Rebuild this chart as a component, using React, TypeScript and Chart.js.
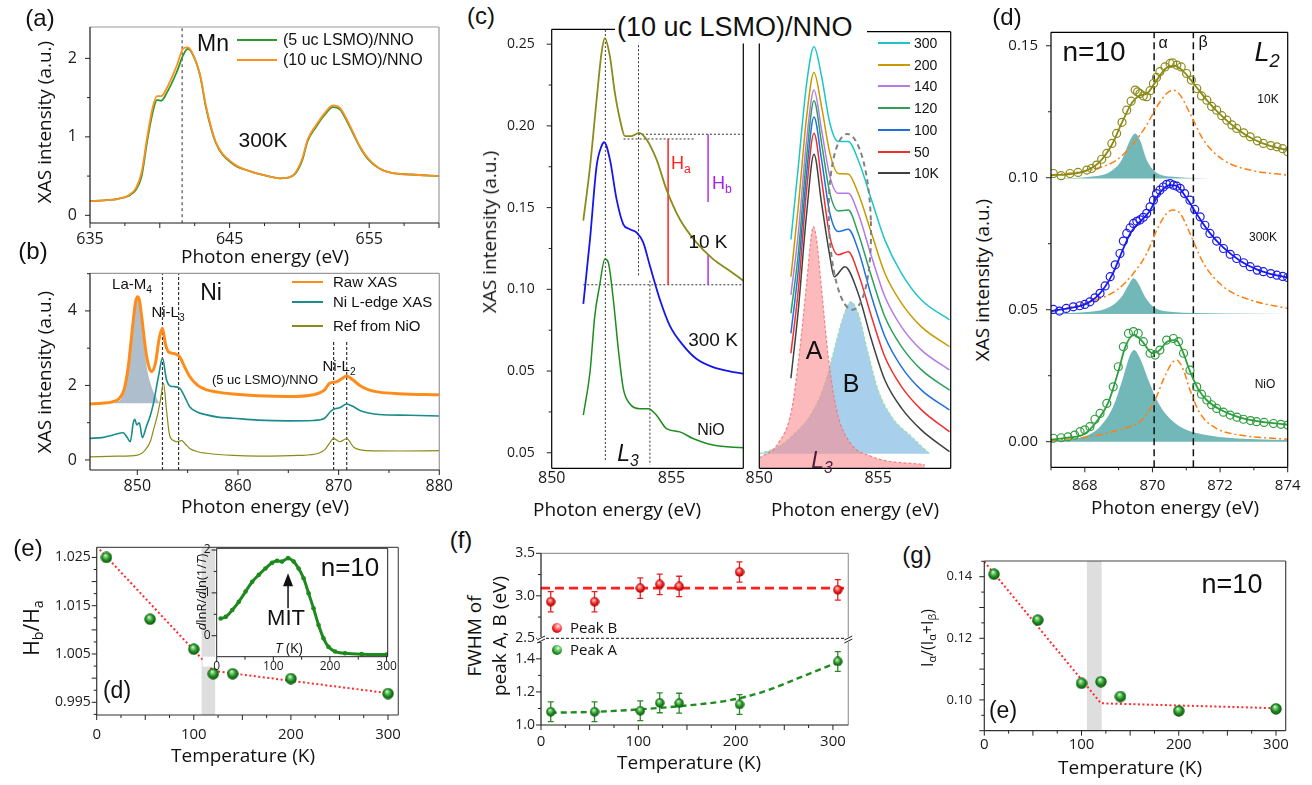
import React, { useEffect, useRef } from 'react';
import { Chart, registerables } from 'chart.js';
Chart.register(...registerables);

const AX_FONT = "'Open Sans', 'DejaVu Sans', sans-serif";
const TX_FONT = "'Liberation Sans', Arial, sans-serif";
const DK = '#1a1a1a';
const LT = '#9a9a9a';

// ---------------- (a) Mn L-edge ----------------
const aLsmo5 = [[635,0.18],[636,0.19],[637,0.21],[637.8,0.25],[638.3,0.33],[638.7,0.5],[639.1,0.95],[639.5,1.32],[639.8,1.47],[640.1,1.46],[640.5,1.56],[641.2,1.82],[641.7,2.05],[642.0,2.12],[642.3,2.07],[642.9,1.77],[643.3,1.38],[644.0,0.93],[645.2,0.66],[646.5,0.56],[648.0,0.49],[648.6,0.47],[649.2,0.48],[649.7,0.53],[650.2,0.7],[650.6,0.95],[651.2,1.13],[651.8,1.28],[652.4,1.38],[652.9,1.35],[653.6,1.13],[654.3,0.88],[654.9,0.72],[655.7,0.6],[656.6,0.54],[658,0.52],[660,0.5]];
const aLsmo10 = [[635,0.18],[636,0.19],[637,0.21],[637.8,0.26],[638.3,0.35],[638.7,0.55],[639.1,1.0],[639.5,1.38],[639.8,1.52],[640.1,1.52],[640.5,1.62],[641.2,1.9],[641.7,2.13],[642.0,2.14],[642.3,2.08],[642.9,1.78],[643.3,1.4],[644.0,0.94],[645.2,0.67],[646.5,0.56],[648.0,0.49],[648.6,0.47],[649.2,0.48],[649.7,0.54],[650.2,0.72],[650.6,0.97],[651.2,1.15],[651.8,1.3],[652.4,1.4],[652.9,1.37],[653.6,1.15],[654.3,0.89],[654.9,0.73],[655.7,0.6],[656.6,0.54],[658,0.52],[660,0.5]];
const aMnLine = [[641.6,-0.1],[641.6,2.4]];
const aXTicks = [635, 645, 655];
const aYTicks = [0, 1, 2];

// ---------------- (b) Ni L-edge ----------------
const bRaw = [[845.3,1.5],[846.5,1.52],[847.5,1.56],[848.2,1.65],[848.7,1.9],[849.1,2.5],[849.5,3.5],[849.8,4.2],[850.0,4.38],[850.2,4.3],[850.5,3.7],[850.8,3.0],[851.1,2.55],[851.4,2.37],[851.8,2.6],[852.2,3.3],[852.5,3.53],[852.8,3.1],[853.1,2.9],[853.6,2.86],[854.2,2.77],[854.7,2.5],[855.2,2.24],[856.0,2.0],[856.9,1.88],[858,1.82],[859.5,1.77],[862,1.72],[865,1.7],[867.5,1.75],[868.6,1.88],[869.1,2.06],[869.8,2.1],[870.3,2.18],[870.8,2.25],[871.4,2.15],[872.1,2.0],[873.0,1.88],[874,1.82],[876,1.78],[880,1.75]];
const bNiEdge = [[845.3,0.58],[846.5,0.6],[847.6,0.67],[848.6,0.73],[849.0,0.6],[849.3,0.49],[849.6,1.0],[849.75,1.09],[849.95,0.94],[850.2,1.0],[850.5,0.6],[850.9,0.9],[851.3,1.2],[851.6,1.52],[852.1,2.24],[852.5,2.73],[852.9,2.15],[853.3,1.98],[853.6,1.97],[854.2,1.93],[854.7,1.7],[855.2,1.43],[856,1.28],[856.9,1.21],[858,1.15],[859.5,1.12],[862,1.07],[865,1.05],[867.5,1.06],[868.6,1.12],[869.2,1.3],[869.5,1.36],[870.1,1.4],[870.8,1.5],[871.4,1.44],[872.1,1.33],[873,1.26],[874,1.22],[877,1.2],[880,1.18]];
const bNiORef = [[845.3,0.08],[848,0.1],[850,0.13],[850.8,0.27],[851.3,0.5],[851.6,0.8],[852.0,1.2],[852.3,1.61],[852.6,2.06],[852.9,1.34],[853.2,0.67],[853.6,0.52],[853.9,0.49],[854.4,0.52],[854.8,0.42],[855.2,0.31],[856,0.22],[856.9,0.18],[859.5,0.12],[862,0.1],[866,0.12],[868,0.18],[868.6,0.27],[869.1,0.45],[869.5,0.58],[870.1,0.49],[870.8,0.57],[871.5,0.34],[872.2,0.27],[872.8,0.25],[876,0.24],[880,0.25]];
const bLaPeak = [[846.3,1.52],[847.2,1.53],[848,1.56],[848.5,1.7],[849,2.3],[849.5,3.5],[849.8,4.2],[850.0,4.38],[850.3,4.0],[850.6,3.2],[851.0,2.4],[851.5,1.9],[852.2,1.52]];
const bLaBase = 1.52;
const bNiL3aLine = [[852.5,-0.27],[852.5,5.01]];
const bNiL3bLine = [[854.1,-0.27],[854.1,5.01]];
const bNiL2aLine = [[869.5,-0.27],[869.5,3.22]];
const bNiL2bLine = [[870.8,-0.27],[870.8,3.22]];
const bXTicks = [850, 860, 870, 880];
const bYTicks = [0, 2, 4];

// ---------------- (c) left: L3 edge ----------------
const cLeft10K = [[851.32,0.142],[851.6,0.175],[851.875,0.216],[852.08,0.2445],[852.22,0.2537],[852.43,0.2425],[852.64,0.22],[852.85,0.2039],[853.06,0.1937],[853.33,0.1937],[853.65,0.1957],[853.96,0.1917],[854.375,0.1795],[854.79,0.1612],[855.35,0.1429],[856.04,0.1287],[856.74,0.1185],[857.43,0.1114],[858,0.1053]];
const cLeft300K = [[851.32,0.0911],[851.6,0.1307],[851.875,0.1754],[852.08,0.1876],[852.19,0.19],[852.43,0.1795],[852.71,0.155],[852.99,0.1398],[853.26,0.1368],[853.54,0.1348],[853.82,0.1287],[854.1,0.1144],[854.51,0.0941],[854.93,0.0778],[855.49,0.0657],[856.04,0.0575],[856.74,0.0524],[857.43,0.0498],[858,0.0484]];
const cLeftNiO = [[851.32,0.023],[851.6,0.0494],[851.8,0.0839],[852.0,0.1022],[852.22,0.1185],[852.36,0.1165],[852.57,0.0941],[852.78,0.0636],[852.99,0.0392],[853.26,0.03],[853.68,0.027],[854.03,0.027],[854.375,0.023],[854.79,0.0148],[855.35,0.0128],[855.9,0.0087],[856.74,0.0047],[858,0.003]];
const cGuideL3 = [[852.24,0.2587],[852.24,-0.0055]];
const cGuidePeakB = [[853.625,0.2567],[853.625,0.1083]];
const cGuideNiO = [[854.1,0.1053],[854.1,-0.0075]];
const cGuideBase = [[851.32,0.1028],[858,0.1028]];
const cGuideTopB = [[853.6,0.1949],[858,0.1949]];
const cGuideTopA = [[853.0,0.192],[855.97,0.192]];
const cHa = [[854.86,0.192],[854.86,0.1028]];
const cHbUpper = [[856.53,0.1949],[856.53,0.1535]];
const cHbLower = [[856.53,0.1213],[856.53,0.1028]];
const cXTicks = [850, 855];
const cLeftYTicks = [0, 0.05, 0.1, 0.15, 0.2, 0.25];
const cLeftYText = ['0.05', '0.05', '0.10', '0.15', '0.20', '0.25'];

// ---------------- (c) right: temperature series ----------------
const cRightEnergy = [851.33,851.64,851.99,852.30,852.62,852.97,853.32,853.74,854.16,854.72,855.28,855.98,856.82,858];
const cRight10KEnergy = [851.33,851.64,851.99,852.30,852.62,852.97,853.15,853.60,854.16,854.72,855.28,855.98,856.82,858];
const cR300 = [52.1,68.7,87.6,96.0,89.2,78.5,74.4,74.4,70.2,61.1,52.0,44.4,38.3,33.8];
const cR200 = [43.6,59.6,80.0,90.1,82.3,71.7,67.1,67.0,62.6,53.5,44.4,37.6,32.2,27.7];
const cR140 = [39.5,53.5,74.7,86.1,77.0,66.4,62.6,62.6,58.0,48.2,39.1,32.2,26.9,22.4];
const cR120 = [35.3,48.9,70.9,83.7,74.0,62.6,58.6,58.8,53.5,43.6,34.5,27.7,22.4,17.8];
const cR100 = [30.7,45.1,67.1,80.0,70.2,58.0,53.9,54.4,49.7,39.1,30.0,23.1,17.8,13.3];
const cR50 = [26.2,40.6,63.4,76.3,65.6,52.7,48.6,49.3,44.4,34.5,25.4,18.6,13.3,8.3];
const cR10 = [20.5,36.0,58.0,71.5,60.3,48.2,43.6,45.9,39.8,29.2,20.1,13.7,8.7,3.8];
const cRightLabels = ['300', '200', '140', '120', '100', '50', '10K'];
const cRightColors = ['#1cc6c6', '#c89a00', '#b47ae6', '#2ca05a', '#2070e0', '#f03030', '#404040'];
const cPeakA = [[850,2.3],[850.8,5.7],[851.36,13.3],[851.7,26.9],[851.99,42.1],[852.2,53.5],[852.27,55.0],[852.41,52.0],[852.62,40.6],[852.9,25.4],[853.25,13.3],[853.74,6.4],[854.72,2.7],[856.96,0.8]];
const cPeakB = [[850,3.3],[850.8,4.9],[851.5,8.0],[852.2,12.5],[852.76,19.3],[853.18,27.7],[853.53,34.5],[853.85,37.9],[854.16,35.3],[854.58,26.2],[855.0,17.8],[855.56,11.8],[856.4,7.2],[857.17,3.3]];
const cPeakBBase = 3.3;
const cEllipseCenter = [853.81, 56.1];

// ---------------- (d) L2 edge fits ----------------
const d10KData = [[867.07,0.1016],[867.3,0.1008],[867.56,0.1016],[867.8,0.102],[868.06,0.1029],[868.2,0.1035],[868.35,0.1048],[868.5,0.107],[868.65,0.1092],[868.8,0.113],[868.94,0.1168],[869.1,0.121],[869.24,0.1256],[869.37,0.129],[869.49,0.1332],[869.56,0.1325],[869.63,0.1319],[869.73,0.131],[869.83,0.1307],[869.93,0.133],[870.03,0.1357],[870.12,0.138],[870.22,0.1402],[870.37,0.142],[870.52,0.1433],[870.6,0.1435],[870.72,0.1427],[870.85,0.142],[871.01,0.1395],[871.15,0.137],[871.31,0.1338],[871.45,0.131],[871.61,0.1294],[871.75,0.127],[871.9,0.1256],[872.05,0.1235],[872.2,0.1218],[872.35,0.12],[872.49,0.1187],[872.7,0.117],[872.89,0.1155],[873.1,0.114],[873.28,0.113],[873.5,0.1122],[873.68,0.1117],[873.85,0.111],[874.0,0.1098]];
const d10KFit = [[867,0.101],[867.5,0.1013],[868,0.1025],[868.4,0.1055],[868.8,0.1125],[869.1,0.121],[869.4,0.1285],[869.6,0.131],[869.85,0.132],[870.1,0.1365],[870.4,0.1415],[870.65,0.1425],[870.9,0.1405],[871.2,0.136],[871.6,0.1295],[872.0,0.124],[872.5,0.1185],[873,0.1145],[873.5,0.112],[874,0.1105]];
const d10KPeakA = [[867,0.0997],[868.15,0.1004],[868.75,0.1023],[869.09,0.1067],[869.34,0.1143],[869.49,0.1168],[869.63,0.1143],[869.83,0.1067],[870.08,0.1023],[870.62,0.1004],[872.1,0.0997],[874,0.0997]];
const d10KPeakB = [[867,0.101],[868.15,0.1029],[868.94,0.1067],[869.44,0.113],[869.83,0.12],[870.13,0.1269],[870.42,0.1319],[870.6,0.1332],[870.82,0.1313],[871.11,0.1244],[871.51,0.1143],[872.1,0.1067],[872.89,0.1029],[874,0.101]];
const d300KData = [[867.07,0.0501],[867.25,0.0495],[867.45,0.0505],[867.66,0.0511],[867.85,0.0515],[868.0,0.052],[868.15,0.053],[868.3,0.0545],[868.45,0.0562],[868.6,0.059],[868.75,0.0625],[868.9,0.067],[869.04,0.0713],[869.14,0.076],[869.24,0.0789],[869.34,0.081],[869.44,0.0827],[869.54,0.0835],[869.63,0.084],[869.73,0.085],[869.83,0.0865],[869.93,0.089],[870.03,0.0915],[870.12,0.094],[870.22,0.0953],[870.32,0.0965],[870.42,0.0975],[870.52,0.0978],[870.62,0.0972],[870.72,0.0968],[870.82,0.096],[870.95,0.094],[871.11,0.0915],[871.25,0.088],[871.41,0.0852],[871.55,0.082],[871.7,0.0789],[871.9,0.076],[872.1,0.0732],[872.3,0.071],[872.49,0.0694],[872.7,0.0678],[872.89,0.0663],[873.1,0.065],[873.28,0.0644],[873.5,0.0637],[873.68,0.0631],[873.85,0.0626],[874.0,0.0622]];
const d300KFit = [[867,0.0495],[867.5,0.0505],[868,0.052],[868.4,0.0555],[868.8,0.063],[869.1,0.072],[869.35,0.079],[869.6,0.083],[869.9,0.087],[870.2,0.094],[870.5,0.0972],[870.7,0.097],[871.0,0.0925],[871.3,0.0865],[871.7,0.079],[872.1,0.0735],[872.6,0.0685],[873.1,0.0652],[873.6,0.0632],[874,0.0622]];
const d300KPeakA = [[867,0.0486],[868.15,0.0492],[868.75,0.0511],[869.09,0.0549],[869.29,0.0593],[869.44,0.0619],[869.58,0.06],[869.78,0.0549],[870.03,0.0511],[870.52,0.0492],[872.1,0.0486],[874,0.0484]];
const d300KPeakB = [[867,0.0492],[868.15,0.053],[868.94,0.0574],[869.44,0.0638],[869.83,0.0713],[870.13,0.0802],[870.42,0.0865],[870.6,0.0878],[870.82,0.0865],[871.11,0.0789],[871.51,0.0676],[872.1,0.0587],[872.89,0.0537],[874,0.0505]];
const dNiOData = [[867.07,0.0013],[867.3,0.0015],[867.5,0.0018],[867.7,0.0025],[867.86,0.0038],[868.0,0.0045],[868.15,0.0057],[868.3,0.0085],[868.45,0.0107],[868.65,0.0145],[868.84,0.0208],[868.99,0.0284],[869.14,0.036],[869.29,0.041],[869.44,0.0417],[869.58,0.041],[869.73,0.0379],[869.93,0.0335],[870.08,0.0328],[870.22,0.0347],[870.42,0.0385],[870.62,0.0391],[870.77,0.0379],[870.92,0.0335],[871.11,0.0271],[871.31,0.0208],[871.45,0.018],[871.61,0.0158],[871.75,0.014],[871.9,0.0126],[872.1,0.0112],[872.3,0.0101],[872.5,0.0093],[872.69,0.0085],[872.9,0.008],[873.08,0.0076],[873.3,0.0073],[873.58,0.0069],[873.8,0.0066],[874.0,0.0063]];
const dNiOFit = [[867,0.0008],[867.5,0.0015],[868,0.003],[868.4,0.0085],[868.7,0.015],[869.0,0.027],[869.2,0.036],[869.45,0.0405],[869.7,0.038],[870.0,0.0335],[870.2,0.0345],[870.45,0.038],[870.7,0.0385],[870.9,0.034],[871.1,0.027],[871.35,0.02],[871.6,0.0158],[872.0,0.0122],[872.5,0.0095],[873,0.008],[873.5,0.0071],[874,0.0065]];
const dNiOPeakA = [[867,0.0004],[867.96,0.0019],[868.45,0.0057],[868.84,0.0133],[869.14,0.0246],[869.34,0.0328],[869.46,0.0347],[869.63,0.0316],[869.88,0.0234],[870.13,0.0158],[870.42,0.0101],[870.82,0.0057],[871.6,0.0025],[873.08,0.0009],[874,0.0006]];
const dNiOPeakB = [[867,0.0004],[868.15,0.0019],[869.14,0.005],[869.63,0.0076],[870.03,0.0145],[870.32,0.0234],[870.57,0.0297],[870.72,0.0309],[870.92,0.0271],[871.11,0.0196],[871.41,0.0107],[871.9,0.005],[872.59,0.0025],[874,0.0009]];
const dBase10K = 0.0997;
const dBase300K = 0.0484;
const dBaseNiO = 0;
const dAlphaLine = [[870.05,-0.0097],[870.05,0.1551]];
const dBetaLine = [[871.21,-0.0097],[871.21,0.1551]];
const dXTicks = [868, 870, 872, 874];
const dYTicks = [0, 0.05, 0.1, 0.15];

// ---------------- (e) Hb/Ha vs T, inset ----------------
const eTemp = [10, 55, 100, 120, 140, 200, 300];
const eRatio = [1.025, 1.0122, 1.006, 1.0009, 1.0009, 0.9999, 0.9968];
const eFitTemp = [0, 120, 300];
const eFit = [1.0273, 1.0015, 0.9969];
const eBand = [108, 122];
const eXTicks = [0, 100, 200, 300];
const eYTicks = [0.995, 1.005, 1.015, 1.025];
const insetTemp = [7,16,27.5,39,51,62.7,74.4,86,97.8,106.6,115.4,126,136,144.7,153.5,162.3,171,179.9,188.6,197.4,209,226.7,256,300];
const insetDeriv = [0.40,0.44,0.6,0.79,1.03,1.26,1.42,1.57,1.70,1.75,1.73,1.81,1.73,1.57,1.34,0.99,0.64,0.25,-0.06,-0.26,-0.37,-0.41,-0.43,-0.44];
const insetMIT = 126;
const insetXTicks = [0, 100, 200, 300];
const insetYTicks = [0, 1, 2];

// ---------------- (f) FWHM ----------------
const fTemp = [10, 55, 102, 122, 142, 204, 305];
const fPeakB = [2.93, 2.93, 3.09, 3.135, 3.11, 3.28, 3.07];
const fPeakBErr = [0.12, 0.12, 0.12, 0.12, 0.12, 0.12, 0.12];
const fPeakA = [1.08, 1.08, 1.086, 1.134, 1.132, 1.124, 1.384];
const fPeakAErr = [0.06, 0.06, 0.06, 0.06, 0.06, 0.06, 0.06];
const fFitB = [[0,3.09],[315.8,3.09]];
const fFitATemp = [10, 57, 105, 143, 194, 228, 263, 305];
const fFitA = [1.074, 1.08, 1.096, 1.114, 1.15, 1.2, 1.28, 1.38];
const fXTicks = [0, 100, 200, 300];
const fUpperYTicks = [2.5, 3.0, 3.5];
const fLowerYTicks = [1.0, 1.2, 1.4];

// ---------------- (g) I_alpha ratio ----------------
const gTemp = [10, 55, 100, 120, 140, 200, 300];
const gRatio = [0.1408, 0.1259, 0.1054, 0.1059, 0.1011, 0.0964, 0.0971];
const gFitTemp = [0, 120, 300];
const gFit = [0.1449, 0.0989, 0.0973];
const gBand = [105.5, 120.7];
const gXTicks = [0, 100, 200, 300];
const gYTicks = [0.10, 0.12, 0.14];

// ---------------- layout (plot rectangles) ----------------
const LAYOUT: Record<string, { l: number; t: number; r: number; b: number; m: number[] }> = {
  a: { l: 90, t: 27, r: 439, b: 223, m: [50, 10, 20, 30] },
  b: { l: 90, t: 273.3, r: 439.3, b: 470, m: [50, 8, 22, 30] },
  cL: { l: 551.7, t: 29.3, r: 743.3, b: 468.3, m: [55, 6, 6, 30] },
  cR: { l: 759.3, t: 31.7, r: 950.7, b: 468.3, m: [20, 6, 8, 30] },
  d: { l: 1051, t: 32.3, r: 1287.7, b: 467.3, m: [55, 10, 20, 30] },
  e: { l: 96.7, t: 547.3, r: 398.3, b: 715, m: [55, 10, 20, 30] },
  eIn: { l: 216.7, t: 548.3, r: 387.7, b: 656.7, m: [16, 6, 14, 18] },
  fU: { l: 541, t: 553.3, r: 848.3, b: 638.3, m: [40, 10, 15, 10] },
  fL: { l: 541, t: 638.3, r: 848.3, b: 725, m: [40, 4, 15, 30] },
  g: { l: 984.3, t: 561, r: 1285.7, b: 730.7, m: [50, 10, 20, 30] },
};
const KEYS = ['a', 'b', 'cL', 'cR', 'd', 'e', 'eIn', 'fU', 'fL', 'g'];

function boxOf(k: string) {
  const L = LAYOUT[k];
  const [ml, mt, mr, mb] = L.m;
  const x = Math.floor(L.l - ml), y = Math.floor(L.t - mt);
  return { x, y, w: Math.ceil(L.r + mr) - x, h: Math.ceil(L.b + mb) - y };
}

const xy = (a: number[][]) => a.map((p) => ({ x: p[0], y: p[1] }));
const zip = (xs: number[], ys: number[]) => xs.map((x, i) => ({ x, y: ys[i] }));
const curve = (data: any[], color: string, w = 1.5, extra: any = {}) => ({ data, borderColor: color, borderWidth: w, pointRadius: 0, fill: false, cubicInterpolationMode: 'monotone', ...extra });
const seg = (data: any[], color: string, w = 1, dash: number[] = [3, 3]) => ({ data, borderColor: color, borderWidth: w, borderDash: dash, pointRadius: 0, fill: false, tension: 0 });
const area = (data: any[], color: string, base: number, extra: any = {}) => ({ data, borderWidth: 0, borderColor: 'rgba(0,0,0,0)', backgroundColor: color, fill: { value: base }, pointRadius: 0, cubicInterpolationMode: 'monotone', ...extra });
const dots = (data: any[], color: string, r = 4) => ({ data, showLine: false, pointRadius: r, pointBorderColor: color, pointBackgroundColor: 'rgba(0,0,0,0)', pointBorderWidth: 1.2, borderColor: color });
const balls = (data: any[], img: HTMLCanvasElement) => ({ data, showLine: false, pointStyle: img, pointRadius: img.width / 2, borderWidth: 0 });

function sphere(d: number, light: string, mid: string, dark: string) {
  const c = document.createElement('canvas');
  c.width = d; c.height = d;
  const g = c.getContext('2d') as CanvasRenderingContext2D;
  const r = d / 2;
  const grad = g.createRadialGradient(r * 0.8, r * 0.6, 0, r, r, r);
  grad.addColorStop(0, '#ffffff');
  grad.addColorStop(0.2, light);
  grad.addColorStop(0.6, mid);
  grad.addColorStop(1, dark);
  g.fillStyle = grad;
  g.beginPath(); g.arc(r, r, r - 0.3, 0, Math.PI * 2); g.fill();
  return c;
}

function drawErr(chart: any, idx: number, errs: number[], color: string) {
  const meta = chart.getDatasetMeta(idx);
  const ys = chart.scales.y;
  const ctx = chart.ctx;
  ctx.save(); ctx.strokeStyle = color; ctx.lineWidth = 1.3;
  meta.data.forEach((el: any, j: number) => {
    const v = chart.data.datasets[idx].data[j].y;
    const y1 = ys.getPixelForValue(v + errs[j]);
    const y2 = ys.getPixelForValue(v - errs[j]);
    ctx.beginPath();
    ctx.moveTo(el.x, y1); ctx.lineTo(el.x, y2);
    ctx.moveTo(el.x - 3, y1); ctx.lineTo(el.x + 3, y1);
    ctx.moveTo(el.x - 3, y2); ctx.lineTo(el.x + 3, y2);
    ctx.stroke();
  });
  ctx.restore();
}

function buildSpecs(): Record<string, any> {
  const gE = sphere(12, '#8fdc8f', '#1f8f1f', '#0b4a0b');
  const gF = sphere(10, '#8fdc8f', '#1f8f1f', '#0b4a0b');
  const rF = sphere(10, '#ffa0a0', '#f01a1a', '#960000');
  const gG = sphere(12, '#8fdc8f', '#1f8f1f', '#0b4a0b');
  const dash = '#333';
  return {
    a: {
      x: { min: 635, max: 660, labels: aXTicks, minor: 2.5, major: 5, size: 16, pad: 7 },
      y: { min: -0.098, max: 2.4, labels: aYTicks, minor: 0.5, size: 16, pad: 13 },
      frame: { l: DK, b: DK, t: LT, r: LT },
      datasets: [curve(xy(aLsmo10), '#ff8f1f', 1.8), curve(xy(aLsmo5), '#2a9a2a', 1.8), seg(xy(aMnLine), '#555', 1.2, [3, 3])],
    },
    b: {
      x: { min: 845.3, max: 880, labels: bXTicks, minor: 5, major: 10, size: 16, pad: 7 },
      y: { min: -0.27, max: 5.01, labels: bYTicks, minor: 1, size: 16, pad: 13 },
      frame: { l: DK, b: DK, t: LT, r: LT },
      datasets: [
        curve(xy(bRaw), '#ff8c1a', 3), curve(xy(bNiEdge), '#1a8c8c', 1.6), curve(xy(bNiORef), '#8b8b1a', 1.2),
        seg(xy(bNiL3aLine), dash, 1.2, [3, 2]), seg(xy(bNiL3bLine), dash, 1.2, [3, 2]), seg(xy(bNiL2aLine), dash, 1.2, [3, 2]), seg(xy(bNiL2bLine), dash, 1.2, [3, 2]),
        area(xy(bLaPeak), 'rgba(125,150,172,0.62)', bLaBase),
      ],
    },
    cL: {
      x: { min: 850, max: 858, labels: cXTicks, size: 16, pad: 1 },
      y: { min: -0.0095, max: 0.2591, labels: cLeftYTicks, fmt: (v: number, i: number) => cLeftYText[i], minor: 0.025, size: 14, pad: 17 },
      frame: { l: '#000', b: '#000', t: '#000', r: '#000' },
      datasets: [
        curve(xy(cLeft10K), '#8b8b1a', 1.8), curve(xy(cLeft300K), '#1515ee', 1.8), curve(xy(cLeftNiO), '#1e8c1e', 1.5),
        seg(xy(cHa), '#ff2020', 1.5, []), seg(xy(cHbUpper), '#b030f0', 1.5, []), seg(xy(cHbLower), '#b030f0', 1.5, []),
        seg(xy(cGuideL3), dash, 1, [2, 2]), seg(xy(cGuidePeakB), dash, 1, [2, 2]), seg(xy(cGuideNiO), dash, 1, [2, 2]),
        seg(xy(cGuideBase), dash, 1, [2, 2]), seg(xy(cGuideTopB), dash, 1, [2, 2]), seg(xy(cGuideTopA), dash, 1, [2, 2]),
      ],
    },
    cR: {
      x: { min: 850, max: 858.05, labels: cXTicks, size: 16, pad: 1 },
      y: { min: 0, max: 99.4, labels: [], size: 12, pad: 4 },
      frame: { l: '#000', b: '#000', t: '#000', r: '#000' },
      datasets: [
        curve(zip(cRightEnergy, cR300), cRightColors[0], 1.5),
        curve(zip(cRightEnergy, cR200), cRightColors[1], 1.5),
        curve(zip(cRightEnergy, cR140), cRightColors[2], 1.5),
        curve(zip(cRightEnergy, cR120), cRightColors[3], 1.5),
        curve(zip(cRightEnergy, cR100), cRightColors[4], 1.5),
        curve(zip(cRightEnergy, cR50), cRightColors[5], 1.5),
        curve(zip(cRight10KEnergy, cR10), cRightColors[6], 1.5),
        area(xy(cPeakA), 'rgba(250,140,145,0.6)', 0, { borderColor: 'rgba(240,120,120,0.9)', borderWidth: 1.2, borderDash: [3, 2] }),
        area(xy(cPeakB), 'rgba(135,190,228,0.72)', cPeakBBase, { borderColor: 'rgba(150,225,150,0.9)', borderWidth: 1.2, borderDash: [3, 2] }),
      ],
      after: (chart: any) => {
        const { ctx, scales } = chart;
        const cx = scales.x.getPixelForValue(cEllipseCenter[0]);
        const cy = scales.y.getPixelForValue(cEllipseCenter[1]);
        ctx.save(); ctx.strokeStyle = '#808080'; ctx.lineWidth = 2; ctx.setLineDash([5, 4]);
        ctx.beginPath(); ctx.ellipse(cx, cy, 21, 88, -0.03, 0, Math.PI * 2); ctx.stroke();
        ctx.restore();
      },
    },
    d: {
      x: { min: 867, max: 874, labels: dXTicks, minor: 1, size: 15, pad: 9 },
      y: { min: -0.0097, max: 0.1551, labels: dYTicks, fmt: (v: number) => v.toFixed(2), minor: 0.025, size: 15, pad: 13 },
      frame: { l: '#000', b: '#000', t: '#000', r: '#000' },
      datasets: [
        dots(xy(d10KData), '#8b8b1a'), dots(xy(d300KData), '#1a1aee'), dots(xy(dNiOData), '#2e9e3e'),
        curve(xy(d10KFit), '#8b8b1a', 1.8), curve(xy(d300KFit), '#1a1aee', 1.8), curve(xy(dNiOFit), '#2e9e3e', 1.8),
        curve(xy(d10KPeakB), '#ff7f0e', 1.5, { borderDash: [7, 3, 2, 3] }),
        curve(xy(d300KPeakB), '#ff7f0e', 1.5, { borderDash: [7, 3, 2, 3] }),
        curve(xy(dNiOPeakB), '#ff7f0e', 1.5, { borderDash: [7, 3, 2, 3] }),
        seg(xy(dAlphaLine), '#111', 1.5, [7, 4]), seg(xy(dBetaLine), '#111', 1.5, [7, 4]),
        area(xy(d10KPeakA), 'rgba(100,176,176,0.9)', dBase10K),
        area(xy(d300KPeakA), 'rgba(100,176,176,0.9)', dBase300K),
        area(xy(dNiOPeakA), 'rgba(100,176,176,0.9)', dBaseNiO),
      ],
    },
    e: {
      x: { min: 0, max: 310.6, labels: eXTicks, minor: 25, major: 50, size: 15, pad: 11 },
      y: { min: 0.99237, max: 1.0271, labels: eYTicks, fmt: (v: number) => v.toFixed(3), minor: 0.0025, major: 0.005, size: 14, pad: 6 },
      frame: { l: '#333', b: '#333', t: '#555', r: '#555' },
      bands: [eBand],
      datasets: [balls(zip(eTemp, eRatio), gE), seg(zip(eFitTemp, eFit), '#ff2a2a', 2, [2, 2.5])],
    },
    eIn: {
      x: { min: 0, max: 302, labels: insetXTicks, minor: 50, size: 12, pad: 3 },
      y: { min: -0.49, max: 2.04, labels: insetYTicks, minor: 0.5, size: 12, pad: 6 },
      frame: { l: '#222', b: '#222', t: '#222', r: '#222', w: 1 },
      whiteBg: true,
      datasets: [curve(zip(insetTemp, insetDeriv), '#1e8a1e', 3, { pointRadius: 2.3, pointBackgroundColor: '#1e8a1e', pointBorderWidth: 0, cubicInterpolationMode: 'default', tension: 0.3 })],
      after: (chart: any) => {
        const { ctx, scales } = chart;
        const x = scales.x.getPixelForValue(insetMIT);
        const yB = scales.y.getPixelForValue(0.64);
        const yT = scales.y.getPixelForValue(1.46);
        ctx.save(); ctx.strokeStyle = '#111'; ctx.fillStyle = '#111'; ctx.lineWidth = 1.5;
        ctx.beginPath(); ctx.moveTo(x, yB); ctx.lineTo(x, yT + 10); ctx.stroke();
        ctx.beginPath(); ctx.moveTo(x, yT); ctx.lineTo(x - 5, yT + 13); ctx.lineTo(x + 5, yT + 13); ctx.closePath(); ctx.fill();
        ctx.restore();
      },
    },
    fU: {
      x: { min: 0, max: 315.8, labels: [], size: 12, pad: 4 },
      y: { min: 2.5, max: 3.5, labels: fUpperYTicks, fmt: (v: number) => v.toFixed(1), minor: 0.25, size: 14, pad: 6 },
      frame: { l: DK, t: LT, r: LT },
      datasets: [balls(zip(fTemp, fPeakB), rF), seg(xy(fFitB), '#ff2020', 2.6, [9, 5])],
      before: (chart: any) => drawErr(chart, 0, fPeakBErr, '#e82020'),
      last: (chart: any) => {
        const { ctx, chartArea: ca } = chart;
        ctx.save(); ctx.strokeStyle = '#111'; ctx.lineWidth = 1; ctx.setLineDash([3, 2]);
        ctx.beginPath(); ctx.moveTo(ca.left, ca.bottom); ctx.lineTo(ca.right, ca.bottom); ctx.stroke();
        ctx.restore();
      },
    },
    fL: {
      x: { min: 0, max: 315.8, labels: fXTicks, minor: 25, major: 50, size: 15, pad: 8 },
      y: { min: 1.0, max: 1.52, labels: fLowerYTicks, fmt: (v: number) => v.toFixed(1), minor: 0.1, size: 14, pad: 6 },
      frame: { l: DK, b: DK, r: LT },
      datasets: [balls(zip(fTemp, fPeakA), gF), curve(zip(fFitATemp, fFitA), '#1e8c1e', 2.4, { borderDash: [6, 4] })],
      before: (chart: any) => drawErr(chart, 0, fPeakAErr, '#2a8a2a'),
      last: (chart: any) => {
        const { ctx, chartArea: ca } = chart;
        ctx.save();
        [ca.left, ca.right].forEach((x: number) => {
          const y = ca.top;
          ctx.fillStyle = '#fff'; ctx.fillRect(x - 4, y - 2, 8, 5);
          ctx.strokeStyle = '#222'; ctx.lineWidth = 1;
          ctx.beginPath(); ctx.moveTo(x - 4, y + 1); ctx.lineTo(x + 4, y - 3); ctx.moveTo(x - 4, y + 4); ctx.lineTo(x + 4, y); ctx.stroke();
        });
        ctx.restore();
      },
    },
    g: {
      x: { min: 0, max: 310, labels: gXTicks, minor: 25, major: 50, size: 15, pad: 5 },
      y: { min: 0.09, max: 0.1451, labels: gYTicks, fmt: (v: number) => v.toFixed(2), minor: 0.005, major: 0.01, size: 13, pad: 12 },
      frame: { l: '#333', b: '#333', t: '#444', r: '#444' },
      bands: [gBand],
      datasets: [balls(zip(gTemp, gRatio), gG), seg(zip(gFitTemp, gFit), '#ff2a2a', 2, [2, 2.5])],
    },
  };
}

function buildConfig(key: string, spec: any) {
  const L = LAYOUT[key];
  const bx = boxOf(key);
  const padL = L.l - bx.x, padT = L.t - bx.y, padR = bx.x + bx.w - L.r, padB = bx.y + bx.h - L.b;
  const axis = (a: any, horiz: boolean) => {
    const has = a.labels.length > 0;
    return {
      type: 'linear', min: a.min, max: a.max, position: horiz ? 'bottom' : 'left',
      grid: { display: false, drawTicks: false }, border: { display: false },
      ticks: {
        display: has, padding: a.pad, color: '#1a1a1a', font: { family: AX_FONT, size: a.size }, autoSkip: false, maxRotation: 0, minRotation: 0,
        callback: (v: number, i: number) => (a.fmt ? a.fmt(v, i) : String(v)),
      },
      afterBuildTicks: (s: any) => { s.ticks = (has ? a.labels : [a.min]).map((v: number) => ({ value: v })); },
      afterFit: (s: any) => {
        if (horiz) s.height = padB; else s.width = padL;
        s.paddingLeft = 0; s.paddingRight = 0; s.paddingTop = 0; s.paddingBottom = 0;
      },
    };
  };
  const layerPlugin = {
    id: 'layers_' + key,
    beforeDraw(chart: any) {
      if (!spec.whiteBg) return;
      const { ctx, chartArea: ca } = chart;
      ctx.save(); ctx.fillStyle = '#fff';
      ctx.fillRect(ca.left, ca.top, ca.right - ca.left, ca.bottom - ca.top);
      ctx.fillRect(ca.left - 14, ca.bottom, ca.right - ca.left + 20, 10);
      ctx.restore();
    },
    beforeDatasetsDraw(chart: any) {
      const { ctx, chartArea: ca, scales } = chart;
      (spec.bands || []).forEach((bd: number[]) => {
        const x1 = scales.x.getPixelForValue(bd[0]), x2 = scales.x.getPixelForValue(bd[1]);
        ctx.save(); ctx.fillStyle = '#dedede'; ctx.fillRect(x1, ca.top, x2 - x1, ca.bottom - ca.top); ctx.restore();
      });
      if (spec.before) spec.before(chart);
    },
    afterDatasetsDraw(chart: any) { if (spec.after) spec.after(chart); },
  };
  const framePlugin = {
    id: 'frame_' + key,
    afterDraw(chart: any) {
      const { ctx, chartArea: { left, right, top, bottom } } = chart;
      const f = spec.frame;
      ctx.save(); ctx.lineWidth = f.w || 1.2; ctx.setLineDash([]);
      const side = (c: string, x1: number, y1: number, x2: number, y2: number) => {
        if (!c) return; ctx.strokeStyle = c; ctx.beginPath(); ctx.moveTo(x1, y1); ctx.lineTo(x2, y2); ctx.stroke();
      };
      side(f.t, left, top, right, top); side(f.r, right, top, right, bottom);
      side(f.b, left, bottom, right, bottom); side(f.l, left, top, left, bottom);
      ctx.restore();
    },
  };
  const tickPlugin = {
    id: 'ticks_' + key,
    afterDraw(chart: any) {
      const { ctx, chartArea: ca, scales } = chart;
      ctx.save(); ctx.strokeStyle = '#222'; ctx.lineWidth = 1;
      const doAxis = (a: any, sc: any, horiz: boolean) => {
        if (!a.minor) return;
        const k0 = Math.ceil(a.min / a.minor - 1e-9), k1 = Math.floor(a.max / a.minor + 1e-9);
        for (let k = k0; k <= k1; k++) {
          const v = k * a.minor;
          const isLab = a.labels.some((l: number) => Math.abs(l - v) < a.minor * 1e-3);
          const isMaj = isLab || (a.major && Math.abs(v / a.major - Math.round(v / a.major)) < 1e-6);
          const len = isMaj ? 5 : 3;
          const p = sc.getPixelForValue(v);
          ctx.beginPath();
          if (horiz) { ctx.moveTo(p, ca.bottom); ctx.lineTo(p, ca.bottom + len); }
          else { ctx.moveTo(ca.left, p); ctx.lineTo(ca.left - len, p); }
          ctx.stroke();
        }
      };
      doAxis(spec.x, scales.x, true);
      doAxis(spec.y, scales.y, false);
      ctx.restore();
      if (spec.last) spec.last(chart);
    },
  };
  return {
    type: 'line',
    data: { datasets: spec.datasets },
    options: {
      responsive: false, animation: false, devicePixelRatio: 1, events: [],
      layout: { padding: { left: 0, top: padT, right: padR, bottom: 0 } },
      plugins: { legend: { display: false }, tooltip: { enabled: false }, title: { display: false } },
      scales: { x: axis(spec.x, true), y: axis(spec.y, false) },
    },
    plugins: [layerPlugin, framePlugin, tickPlugin],
  };
}

const SUB: React.CSSProperties = { fontSize: '0.68em', verticalAlign: '-0.32em', lineHeight: 0 };

function Txt(p: { x: number; y: number; s?: number; c?: string; rot?: number; it?: boolean; f?: string; left?: boolean; style?: React.CSSProperties; children: any }) {
  return (
    <div style={{
      position: 'absolute', left: p.x, top: p.y, fontSize: p.s || 16, color: p.c || '#111', fontFamily: p.f || TX_FONT,
      fontStyle: p.it ? 'italic' : 'normal', whiteSpace: 'nowrap', lineHeight: 1.15,
      transform: `translate(${p.left ? '0' : '-50%'},-50%) rotate(${p.rot || 0}deg)`, ...(p.style || {}),
    }}>{p.children}</div>
  );
}
function Ln(p: { x1: number; x2: number; y: number; c: string; w?: number }) {
  const w = p.w || 2;
  return <div style={{ position: 'absolute', left: p.x1, top: p.y - w / 2, width: p.x2 - p.x1, height: w, background: p.c }} />;
}
function Ball(p: { x: number; y: number; d: number; mid: string; dark: string; light: string }) {
  return <div style={{ position: 'absolute', left: p.x - p.d / 2, top: p.y - p.d / 2, width: p.d, height: p.d, borderRadius: '50%', background: `radial-gradient(circle at 60% 32%, #fff 0%, ${p.light} 18%, ${p.mid} 58%, ${p.dark} 100%)` }} />;
}

export default function App() {
  const refs = useRef<(HTMLCanvasElement | null)[]>([]);
  useEffect(() => {
    const specs = buildSpecs();
    const charts = KEYS.map((k, i) => new Chart(refs.current[i] as HTMLCanvasElement, buildConfig(k, specs[k]) as any));
    return () => charts.forEach((c) => c.destroy());
  }, []);
  const AX = AX_FONT;
  return (
    <div style={{ position: 'fixed', left: 0, top: 0, width: 1312, height: 785, background: '#fff', overflow: 'hidden' }}>
      {KEYS.map((k, i) => {
        const b = boxOf(k);
        return <canvas key={k} ref={(el) => { refs.current[i] = el; }} width={b.w} height={b.h} style={{ position: 'absolute', left: b.x, top: b.y, width: b.w, height: b.h }} />;
      })}

      {/* panel labels */}
      <Txt x={40} y={18} s={24}>(a)</Txt>
      <Txt x={33} y={251} s={24}>(b)</Txt>
      <Txt x={481} y={16} s={24}>(c)</Txt>
      <Txt x={1007} y={17} s={24}>(d)</Txt>
      <Txt x={28} y={548} s={24}>(e)</Txt>
      <Txt x={461} y={540} s={24}>(f)</Txt>
      <Txt x={917} y={555} s={24}>(g)</Txt>

      {/* (a) */}
      <Txt x={45} y={122} s={19} f={AX} rot={-90}>XAS intensity (a.u.)</Txt>
      <Txt x={265} y={257} s={19} f={AX}>Photon energy (eV)</Txt>
      <Txt x={213} y={43} s={23}>Mn</Txt>
      <Ln x1={237} x2={277} y={40} c="#2a9a2a" />
      <Ln x1={237} x2={277} y={60} c="#ff8f1f" />
      <Txt x={283} y={40} s={16} left>(5 uc LSMO)/NNO</Txt>
      <Txt x={283} y={60} s={16} left>(10 uc LSMO)/NNO</Txt>
      <Txt x={263} y={140} s={21}>300K</Txt>

      {/* (b) */}
      <Txt x={45} y={372} s={19} f={AX} rot={-90}>XAS intensity (a.u.)</Txt>
      <Txt x={265} y={507} s={19} f={AX}>Photon energy (eV)</Txt>
      <Txt x={132} y={284} s={15}>La-M<span style={SUB}>4</span></Txt>
      <Txt x={168} y={312} s={15}>Ni-L<span style={SUB}>3</span></Txt>
      <Txt x={211} y={292} s={23}>Ni</Txt>
      <Txt x={265} y={380} s={13}>(5 uc LSMO)/NNO</Txt>
      <Txt x={339} y={366} s={15}>Ni-L<span style={SUB}>2</span></Txt>
      <Ln x1={292} x2={323} y={282} c="#ff8c1a" />
      <Ln x1={292} x2={323} y={302} c="#1a8c8c" />
      <Ln x1={292} x2={323} y={326} c="#8b8b1a" />
      <Txt x={333} y={282} s={15} left>Raw XAS</Txt>
      <Txt x={333} y={302} s={15} left>Ni L-edge XAS</Txt>
      <Txt x={333} y={326} s={15} left>Ref from NiO</Txt>

      {/* (c) */}
      <Txt x={615} y={28} s={27} left style={{ background: '#fff', paddingLeft: 2, paddingRight: 14 }}>(10 uc LSMO)/NNO</Txt>
      <Txt x={490} y={232} s={19} f={AX} rot={-90}>XAS intensity (a.u.)</Txt>
      <Txt x={617} y={510} s={19} f={AX}>Photon energy (eV)</Txt>
      <Txt x={855} y={510} s={19} f={AX}>Photon energy (eV)</Txt>
      <Txt x={681} y={163} s={18} c="#ff2020">H<span style={SUB}>a</span></Txt>
      <Txt x={722} y={183} s={18} c="#a020f0">H<span style={SUB}>b</span></Txt>
      <Txt x={708} y={242} s={19}>10 K</Txt>
      <Txt x={713} y={340} s={19}>300 K</Txt>
      <Txt x={711} y={430} s={16}>NiO</Txt>
      <Txt x={628} y={453} s={23} it>L<span style={SUB}>3</span></Txt>
      <Txt x={814} y={350} s={25}>A</Txt>
      <Txt x={851} y={383} s={25}>B</Txt>
      <Txt x={822} y={460} s={23} it c="#4b2040">L<span style={SUB}>3</span></Txt>
      {cRightLabels.map((lab, i) => (
        <React.Fragment key={lab}>
          <Ln x1={878} x2={910} y={43 + 21.7 * i} c={cRightColors[i]} />
          <Txt x={914} y={43 + 21.7 * i} s={14} left>{lab}</Txt>
        </React.Fragment>
      ))}

      {/* (d) */}
      <Txt x={983} y={280} s={19} f={AX} rot={-90}>XAS intensity (a.u.)</Txt>
      <Txt x={1175} y={508} s={19} f={AX}>Photon energy (eV)</Txt>
      <Txt x={1094} y={52} s={28}>n=10</Txt>
      <Txt x={1163} y={43} s={16}>α</Txt>
      <Txt x={1203} y={42} s={16}>β</Txt>
      <Txt x={1267} y={53} s={27} it>L<span style={SUB}>2</span></Txt>
      <Txt x={1268} y={100} s={12}>10K</Txt>
      <Txt x={1263} y={238} s={12}>300K</Txt>
      <Txt x={1265} y={385} s={12}>NiO</Txt>

      {/* (e) */}
      <Txt x={31} y={628} s={21} f={AX} rot={-90}>H<span style={SUB}>b</span>/H<span style={SUB}>a</span></Txt>
      <Txt x={243} y={756} s={19} f={AX}>Temperature (K)</Txt>
      <Txt x={117} y={690} s={23}>(d)</Txt>
      <Txt x={350} y={568} s={26}>n=10</Txt>
      <Txt x={286} y={618} s={22}>MIT</Txt>
      <Txt x={289} y={648} s={14} f={AX}><i>T</i> (K)</Txt>
      <Txt x={201} y={592} s={13} f={AX} rot={-90}><i>d</i>lnR/<i>d</i>ln(1/<i>T</i>)</Txt>

      {/* (f) */}
      <Txt x={475} y={636} s={19} f={AX} rot={-90}>FWHM of</Txt>
      <Txt x={500} y={636} s={19} f={AX} rot={-90}>peak A, B (eV)</Txt>
      <Txt x={689} y={763} s={19} f={AX}>Temperature (K)</Txt>
      <Ball x={557} y={628} d={10} light="#ffa0a0" mid="#f01a1a" dark="#960000" />
      <Ball x={557} y={650} d={10} light="#8fdc8f" mid="#1f8f1f" dark="#0b4a0b" />
      <Txt x={570} y={628} s={15} f={AX} left>Peak B</Txt>
      <Txt x={570} y={650} s={15} f={AX} left>Peak A</Txt>

      {/* (g) */}
      <Txt x={927} y={638} s={16} f={AX} rot={-90}>I<span style={SUB}>α</span>/(I<span style={SUB}>α</span>+I<span style={SUB}>β</span>)</Txt>
      <Txt x={1130} y={768} s={19} f={AX}>Temperature (K)</Txt>
      <Txt x={1232} y={585} s={27}>n=10</Txt>
      <Txt x={1003} y={710} s={23}>(e)</Txt>
    </div>
  );
}
